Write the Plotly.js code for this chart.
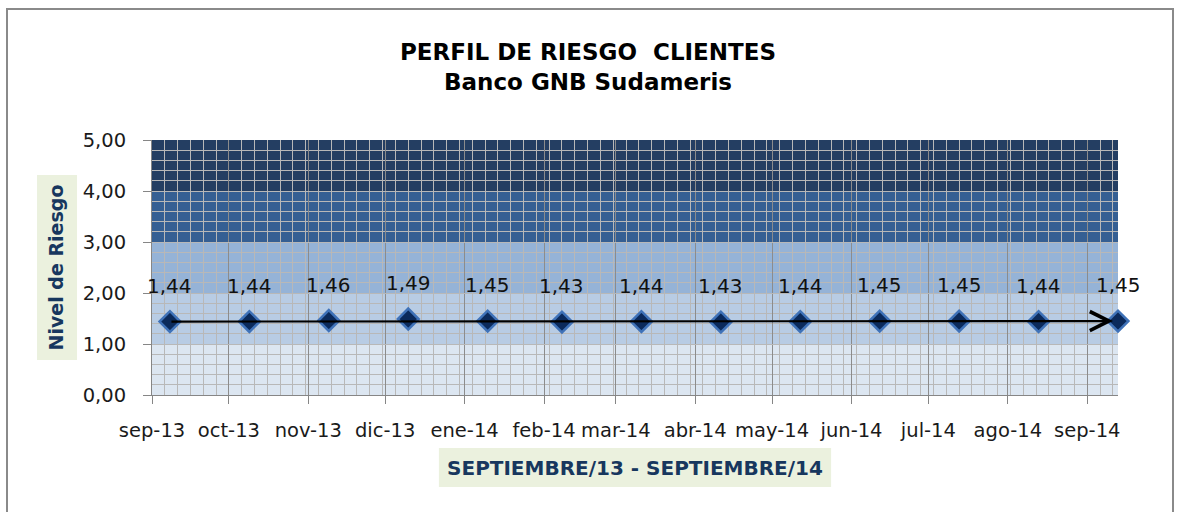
<!DOCTYPE html>
<html>
<head>
<meta charset="utf-8">
<script src="https://cdn.plot.ly/plotly-3.0.1.min.js"></script>
<style>
  html, body { margin: 0; padding: 0; background: #ffffff; }
  #wrap { position: relative; width: 1182px; height: 512px; overflow: hidden; }
  #frame { position: absolute; left: 6px; top: 8px; width: 1168px; height: 520px; border: 2px solid #8a8a8a; box-sizing: border-box; pointer-events: none; z-index: 5; }
  #chart { position: absolute; left: 0; top: 0; width: 1182px; height: 512px; }
</style>
</head>
<body>
<div id="wrap">
  <div id="chart"></div>
  <div id="frame"></div>
</div>
<script>
// ---- data ----
const monthLabels = ['sep-13','oct-13','nov-13','dic-13','ene-14','feb-14','mar-14','abr-14','may-14','jun-14','jul-14','ago-14','sep-14'];
const monthStarts = ['2013-09-01','2013-10-01','2013-11-01','2013-12-01','2014-01-01','2014-02-01','2014-03-01','2014-04-01','2014-05-01','2014-06-01','2014-07-01','2014-08-01','2014-09-01'];
const pointDates = ['2013-09-08','2013-10-09','2013-11-09','2013-12-10','2014-01-10','2014-02-08','2014-03-11','2014-04-11','2014-05-12','2014-06-12','2014-07-13','2014-08-13','2014-09-13'];
const riskValues = [1.44,1.44,1.46,1.49,1.45,1.43,1.44,1.43,1.44,1.45,1.45,1.44,1.45];
const bandEdges = [0,1,2,3,4,5];
const bandColors = ['#dce6f1','#b8cce4','#95b3d7','#355f93','#243e62'];

const FONT = 'DejaVu Sans, sans-serif';
const fmt = v => v.toFixed(2).replace('.', ',');

const shapes = [];
for (let i = 0; i < bandColors.length; i++) {
  shapes.push({type:'rect', layer:'below', xref:'paper', yref:'y', x0:0, x1:1,
    y0:bandEdges[i], y1:bandEdges[i+1], fillcolor:bandColors[i], line:{width:0}});
}
// title background boxes
shapes.push({type:'rect', layer:'below', xref:'paper', yref:'paper', x0:-0.119, x1:-0.0776, y0:0.137, y1:0.863, fillcolor:'#ebf1de', line:{width:0}});
shapes.push({type:'rect', layer:'below', xref:'paper', yref:'paper', x0:0.297, x1:0.703, y0:-0.361, y1:-0.208, fillcolor:'#ebf1de', line:{width:0}});

const annotations = riskValues.map((v, i) => ({
  x: pointDates[i], y: v, xref:'x', yref:'y', text: fmt(v), showarrow:false,
  yshift: 36, font:{family:FONT, size:20, color:'#111111'}
}));
const last = riskValues.length - 1;
annotations.push({
  x: pointDates[last], y: riskValues[last], xref:'x', yref:'y',
  ax: pointDates[0], ay: riskValues[0], axref:'x', ayref:'y',
  text:'', showarrow:true, arrowhead:5, arrowsize:1.7, arrowwidth:2.2, arrowcolor:'#000000', standoff:5
});

const trace = {
  type:'scatter', mode:'markers', x: pointDates, y: riskValues, cliponaxis:false,
  marker:{symbol:'diamond', size:16, color:'#0b2a5b', line:{color:'#3f72b8', width:2.5}},
  hoverinfo:'x+y'
};

const layout = {
  width:1182, height:512,
  margin:{l:152, r:64, t:140, b:117, pad:0},
  paper_bgcolor:'#ffffff', plot_bgcolor:'rgba(0,0,0,0)',
  separators: ',.',
  showlegend:false,
  title:{text:'PERFIL DE RIESGO \u00a0CLIENTES<br>Banco GNB Sudameris',
    font:{family:FONT, size:23, color:'#000000', weight:'bold'},
    x:588/1182, xanchor:'center', xref:'container', y:1-60/512, yanchor:'top', yref:'container'},
  xaxis:{
    type:'date', range:[monthStarts[0], pointDates[last]],
    tickmode:'array', tickvals: monthStarts, ticktext: monthLabels,
    ticks:'outside', ticklen:8, tickcolor:'#868686', tickwidth:1,
    ticklabelstandoff: 10,
    showline:true, linecolor:'#868686', linewidth:1,
    showgrid:true, gridcolor:'#8c8c8c', gridwidth:1,
    minor:{tick0: monthStarts[0], dtick: 5*86400000, showgrid:true, gridcolor:'#b8b8b8', gridwidth:1, ticks:''},
    tickfont:{family:FONT, size:19.5, color:'#1a1a1a'},
    title:{text:'SEPTIEMBRE/13 - SEPTIEMBRE/14', standoff:19,
      font:{family:FONT, size:20, color:'#17375e', weight:'bold'}},
    zeroline:false, fixedrange:true
  },
  yaxis:{
    range:[0,5], dtick:1, tickformat:'.2f',
    ticks:'outside', ticklen:8, tickcolor:'#868686', tickwidth:1,
    ticklabelstandoff: 13,
    showline:true, linecolor:'#868686', linewidth:1,
    showgrid:true, gridcolor:'#b8b8b8', gridwidth:1,
    minor:{dtick:0.2, showgrid:true, gridcolor:'#b8b8b8', gridwidth:1, ticks:''},
    tickfont:{family:FONT, size:19.5, color:'#1a1a1a'},
    title:{text:'Nivel de Riesgo', standoff:14,
      font:{family:FONT, size:19, color:'#17375e', weight:'bold'}},
    zeroline:false, fixedrange:true
  },
  shapes: shapes,
  annotations: annotations
};

Plotly.newPlot('chart', [trace], layout, {displayModeBar:false, staticPlot:true});
</script>
</body>
</html>
